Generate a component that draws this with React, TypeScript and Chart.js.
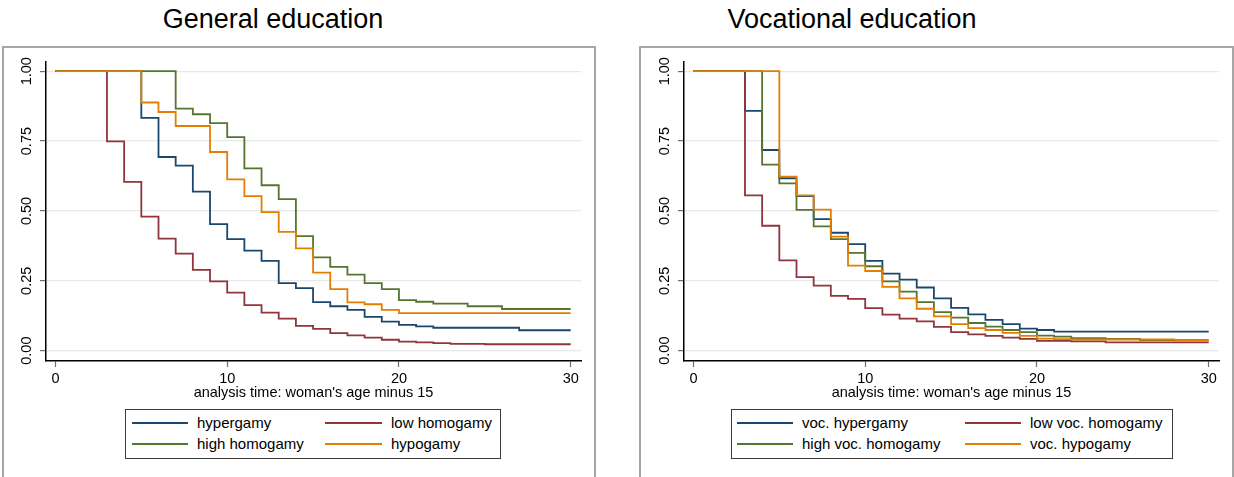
import React, { useEffect, useRef } from "react";
import { Chart, registerables } from "chart.js";

Chart.register(...registerables);

// analysis time (woman's age minus 15)
const YEARS = [0, 1, 2, 3, 4, 5, 6, 7, 8, 9, 10, 11, 12, 13, 14, 15, 16, 17, 18, 19, 20, 21, 22, 23, 24, 25, 26, 27, 28, 29, 30];

// General education – survival estimates at each year
const GEN_HYPERGAMY = [1, 1, 1, 1, 1, 0.833, 0.693, 0.662, 0.569, 0.453, 0.399, 0.358, 0.321, 0.242, 0.224, 0.174, 0.159, 0.146, 0.121, 0.104, 0.092, 0.087, 0.082, 0.082, 0.082, 0.082, 0.082, 0.073, 0.073, 0.073, 0.073];
const GEN_LOW_HOMOGAMY = [1, 1, 1, 0.749, 0.604, 0.48, 0.401, 0.347, 0.289, 0.248, 0.208, 0.163, 0.136, 0.115, 0.089, 0.078, 0.063, 0.055, 0.047, 0.039, 0.032, 0.03, 0.027, 0.024, 0.024, 0.023, 0.023, 0.023, 0.023, 0.023, 0.023];
const GEN_HIGH_HOMOGAMY = [1, 1, 1, 1, 1, 1, 1, 0.866, 0.846, 0.814, 0.764, 0.652, 0.592, 0.542, 0.41, 0.334, 0.3, 0.272, 0.242, 0.22, 0.181, 0.175, 0.168, 0.168, 0.159, 0.159, 0.149, 0.149, 0.149, 0.149, 0.149];
const GEN_HYPOGAMY = [1, 1, 1, 1, 1, 0.888, 0.854, 0.804, 0.804, 0.711, 0.613, 0.553, 0.496, 0.425, 0.366, 0.279, 0.22, 0.173, 0.166, 0.146, 0.134, 0.134, 0.134, 0.134, 0.134, 0.134, 0.134, 0.134, 0.134, 0.134, 0.134];

// Vocational education – survival estimates at each year
const VOC_HYPERGAMY = [1, 1, 1, 0.858, 0.718, 0.617, 0.553, 0.471, 0.422, 0.381, 0.321, 0.276, 0.254, 0.226, 0.187, 0.153, 0.13, 0.11, 0.095, 0.079, 0.074, 0.068, 0.068, 0.068, 0.068, 0.068, 0.068, 0.068, 0.068, 0.068, 0.068];
const VOC_LOW_HOMOGAMY = [1, 1, 1, 0.556, 0.447, 0.323, 0.263, 0.233, 0.196, 0.185, 0.152, 0.129, 0.115, 0.105, 0.085, 0.066, 0.058, 0.053, 0.047, 0.042, 0.035, 0.035, 0.033, 0.033, 0.03, 0.03, 0.03, 0.03, 0.03, 0.03, 0.03];
const VOC_HIGH_HOMOGAMY = [1, 1, 1, 1, 0.666, 0.599, 0.504, 0.445, 0.399, 0.35, 0.302, 0.248, 0.211, 0.174, 0.138, 0.118, 0.099, 0.086, 0.074, 0.066, 0.054, 0.05, 0.045, 0.045, 0.042, 0.042, 0.038, 0.038, 0.038, 0.038, 0.038];
const VOC_HYPOGAMY = [1, 1, 1, 1, 1, 0.623, 0.556, 0.505, 0.408, 0.304, 0.285, 0.228, 0.187, 0.15, 0.123, 0.095, 0.081, 0.074, 0.064, 0.053, 0.043, 0.041, 0.04, 0.04, 0.04, 0.04, 0.04, 0.04, 0.036, 0.036, 0.036];

const GEN_LABELS = ["hypergamy", "low homogamy", "high homogamy", "hypogamy"];
const VOC_LABELS = ["voc. hypergamy", "low voc. homogamy", "high voc. homogamy", "voc. hypogamy"];

const X_TICKS = [0, 10, 20, 30];
const Y_TICKS = [0, 0.25, 0.5, 0.75, 1];
const X_TITLE = "analysis time: woman's age minus 15";

const COLORS = ["#1a476f", "#90353b", "#55752f", "#e37e00"];
const FONT = "Arial, 'Liberation Sans', Helvetica, sans-serif";

const CANVAS_H = 477;
const AREA_LEFT = 46;
const AREA_RIGHT = 581;
const AREA_TOP = 62;
const AREA_BOTTOM = 361;
const X_AXIS_H = 45;

type PanelProps = {
  left: number;
  width: number;
  series: number[][];
};

function PanelChart({ left, width, series }: PanelProps) {
  const ref = useRef<HTMLCanvasElement | null>(null);
  useEffect(() => {
    if (!ref.current) return;
    const datasets = series.map((vals, i) => ({
      label: String(i),
      data: YEARS.map((t, k) => ({ x: t, y: vals[k] })),
      borderColor: COLORS[i],
      backgroundColor: COLORS[i],
      borderWidth: 1.8,
      pointRadius: 0,
      stepped: "before" as const,
      fill: false,
      order: 3 - i,
    }));
    const chart = new Chart(ref.current, {
      type: "line",
      data: { datasets },
      options: {
        animation: false,
        responsive: false,
        maintainAspectRatio: false,
        layout: {
          padding: {
            left: 0,
            right: width - AREA_RIGHT,
            top: AREA_TOP,
            bottom: CANVAS_H - AREA_BOTTOM - X_AXIS_H,
          },
        },
        plugins: {
          legend: { display: false },
          tooltip: { enabled: false },
          title: { display: false },
        },
        scales: {
          x: {
            type: "linear",
            min: -0.55,
            max: 30.6,
            afterBuildTicks: (s: any) => {
              s.ticks = X_TICKS.map((v) => ({ value: v }));
            },
            afterFit: (s: any) => {
              s.height = X_AXIS_H;
            },
            grid: {
              drawOnChartArea: false,
              drawTicks: true,
              tickLength: 6,
              tickColor: "#6e6e6e",
              tickWidth: 1.2,
            },
            border: { display: true, color: "#000", width: 1.5 },
            ticks: {
              autoSkip: false,
              maxRotation: 0,
              minRotation: 0,
              padding: 3,
              color: "#000",
              font: { family: FONT, size: 14.5 },
              callback: (v: any) => String(v),
            },
            title: {
              display: true,
              text: X_TITLE,
              color: "#000",
              font: { family: FONT, size: 14.5 },
              padding: { top: 0, bottom: 4 },
            },
          },
          y: {
            type: "linear",
            min: -0.037,
            max: 1.033,
            afterBuildTicks: (s: any) => {
              s.ticks = Y_TICKS.map((v) => ({ value: v }));
            },
            afterFit: (s: any) => {
              s.width = AREA_LEFT;
            },
            grid: {
              drawOnChartArea: true,
              color: "#e8e8e8",
              lineWidth: 1.2,
              tickLength: 6,
              tickColor: "#6e6e6e",
              tickWidth: 1.2,
            },
            border: { display: true, color: "#000", width: 1.5 },
            ticks: {
              autoSkip: false,
              minRotation: 90,
              maxRotation: 90,
              crossAlign: "center",
              padding: -1,
              color: "#000",
              font: { family: FONT, size: 14.5 },
              callback: (v: any) => Number(v).toFixed(2),
            },
          },
        },
      } as any,
    });
    return () => chart.destroy();
  }, [series, width]);
  return (
    <canvas
      ref={ref}
      width={width}
      height={CANVAS_H}
      style={{ position: "absolute", left, top: 0, width, height: CANVAS_H }}
    />
  );
}

type LegendProps = {
  box: { left: number; right: number; top: number; bottom: number };
  col1: { lineLeft: number; lineRight: number; text: number };
  col2: { lineLeft: number; lineRight: number; text: number };
  labels: string[];
};

function Legend({ box, col1, col2, labels }: LegendProps) {
  const rows = [422, 443];
  const baselines = [428.5, 449.2];
  const cols = [col1, col2];
  const items: React.ReactNode[] = [];
  labels.forEach((lab, i) => {
    const c = cols[i % 2];
    const r = Math.floor(i / 2);
    items.push(
      <div
        key={"l" + i}
        style={{
          position: "absolute",
          left: c.lineLeft,
          top: rows[r],
          width: c.lineRight - c.lineLeft,
          height: 2,
          background: COLORS[i],
        }}
      />
    );
    items.push(
      <div
        key={"t" + i}
        style={{
          position: "absolute",
          left: c.text,
          top: baselines[r] - 15.2,
          height: 20,
          lineHeight: "20px",
          fontFamily: FONT,
          fontSize: 15,
          color: "#000",
          whiteSpace: "nowrap",
        }}
      >
        {lab}
      </div>
    );
  });
  return (
    <>
      <div
        style={{
          position: "absolute",
          left: box.left,
          top: box.top,
          width: box.right - box.left,
          height: box.bottom - box.top,
          border: "1.5px solid #3c3c3c",
          boxSizing: "border-box",
          background: "#fff",
        }}
      />
      {items}
    </>
  );
}

function Title({ text, center }: { text: string; center: number }) {
  return (
    <div
      style={{
        position: "absolute",
        left: center - 250,
        width: 500,
        top: 6,
        textAlign: "center",
        fontFamily: FONT,
        fontSize: 27,
        lineHeight: "26px",
        color: "#000",
        whiteSpace: "nowrap",
      }}
    >
      {text}
    </div>
  );
}

function Frame({ left, right }: { left: number; right: number }) {
  return (
    <div
      style={{
        position: "absolute",
        left,
        top: 46,
        width: right - left,
        height: 460,
        border: "2px solid #a6a6a6",
        borderBottom: "none",
        boxSizing: "border-box",
        background: "#fff",
      }}
    />
  );
}

const GEN_SERIES = [GEN_HYPERGAMY, GEN_LOW_HOMOGAMY, GEN_HIGH_HOMOGAMY, GEN_HYPOGAMY];
const VOC_SERIES = [VOC_HYPERGAMY, VOC_LOW_HOMOGAMY, VOC_HIGH_HOMOGAMY, VOC_HYPOGAMY];

export default function App() {
  return (
    <div
      style={{
        position: "absolute",
        left: 0,
        top: 0,
        width: 1234,
        height: 477,
        overflow: "hidden",
        background: "#fff",
      }}
    >
      <Frame left={2} right={596} />
      <Frame left={639} right={1234} />
      <Title text="General education" center={273} />
      <Title text="Vocational education" center={852} />
      <PanelChart left={0} width={600} series={GEN_SERIES} />
      <PanelChart left={638} width={596} series={VOC_SERIES} />
      <Legend
        box={{ left: 125, right: 501, top: 409, bottom: 459 }}
        col1={{ lineLeft: 132, lineRight: 188, text: 197 }}
        col2={{ lineLeft: 325, lineRight: 382, text: 391 }}
        labels={GEN_LABELS}
      />
      <Legend
        box={{ left: 731, right: 1173, top: 409, bottom: 459 }}
        col1={{ lineLeft: 737, lineRight: 793, text: 802 }}
        col2={{ lineLeft: 965, lineRight: 1021, text: 1030 }}
        labels={VOC_LABELS}
      />
    </div>
  );
}
